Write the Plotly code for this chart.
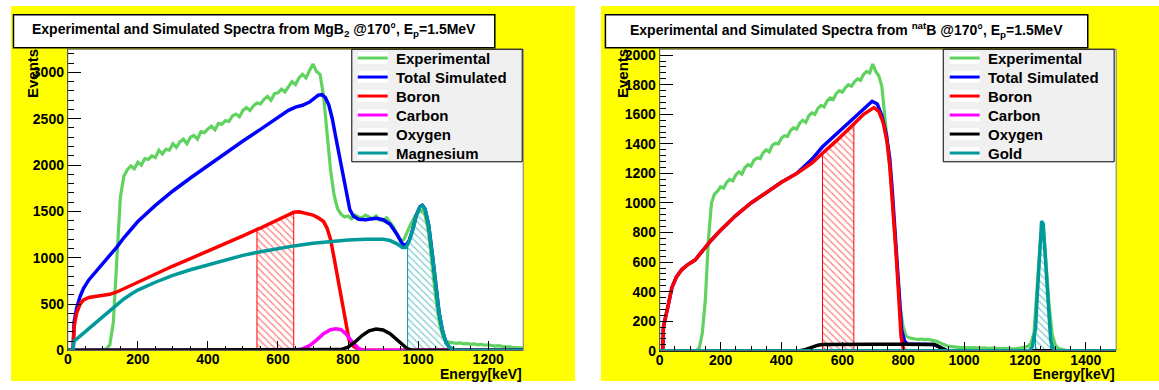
import plotly.graph_objects as go

W, H = 1159, 390

# ---------------- Left pad : MgB2 ----------------
EXP_L_E = list(range(0, 1301, 10))
EXP_L = [0, 0, 0, 0, 0, 0, 0, 0, 0, 0, 5, 15, 60, 300, 1000, 1650, 1880, 1950, 1990, 1960,
         2030, 2000, 2070, 2060, 2100, 2080, 2160, 2120, 2170, 2160, 2230, 2190, 2250, 2280, 2230,
         2300, 2320, 2280, 2360, 2350, 2390, 2420, 2380, 2450, 2440, 2480, 2470, 2530, 2550, 2520,
         2590, 2620, 2590, 2640, 2670, 2660, 2710, 2740, 2700, 2770, 2780, 2820, 2790, 2850, 2900,
         2870, 2940, 2980, 2940, 3020, 3090, 3010, 2980, 2750, 2350, 1950, 1680, 1530, 1470, 1440,
         1450, 1420, 1460, 1440, 1430, 1460, 1440, 1420, 1450, 1410, 1400, 1430, 1380, 1330, 1250,
         1180, 1200, 1290, 1370, 1440, 1490, 1510, 1460, 1270, 920, 580, 310, 160, 100, 85,
         80, 75, 80, 70, 75, 65, 70, 60, 65, 55, 60, 50, 45, 50, 40,
         35, 40, 30, 30, 25, 25]

TOT_L_E = [0, 15, 18, 25, 35, 45, 60, 80, 100, 120, 140, 160, 180, 200, 250, 300, 350, 400, 450,
           500, 550, 600, 630, 650, 670, 690, 705, 715, 725, 735, 745, 755, 765, 775, 785, 795,
           805, 815, 830, 850, 880, 900, 920, 940, 955, 965, 975, 985, 995, 1005, 1012, 1020,
           1030, 1040, 1050, 1060, 1070, 1080, 1090, 1100, 1110, 1300]
TOT_L = [0, 0, 300, 450, 580, 670, 760, 850, 930, 1020, 1115, 1215, 1305, 1390, 1565, 1720, 1860,
         1995, 2125, 2260, 2385, 2510, 2590, 2625, 2645, 2680, 2725, 2755, 2760, 2730, 2650, 2500,
         2300, 2100, 1880, 1680, 1520, 1450, 1415, 1410, 1425, 1410, 1360, 1250, 1150, 1130, 1190,
         1310, 1460, 1550, 1565, 1525, 1355, 1055, 705, 405, 205, 82, 30, 10, 0, 0]

B_L_E = [0, 15, 18, 25, 35, 45, 60, 80, 100, 120, 140, 160, 180, 200, 250, 300, 350, 400, 450,
         500, 540, 550, 600, 630, 645, 660, 680, 700, 715, 730, 740, 750, 760, 770, 779, 790,
         803, 815, 830, 850, 1300]
B_L = [0, 0, 250, 400, 500, 545, 570, 580, 590, 605, 630, 665, 705, 745, 830, 910, 990, 1070,
       1150, 1235, 1305, 1320, 1410, 1465, 1490, 1495, 1480, 1460, 1430, 1390, 1320, 1200, 1000,
       790, 600, 350, 110, 45, 12, 0, 0]

C_L_E = [0, 650, 670, 690, 710, 730, 750, 765, 780, 795, 810, 820, 830, 840, 850, 1300]
C_L = [0, 0, 15, 50, 110, 180, 222, 232, 222, 175, 100, 55, 20, 5, 0, 0]

O_L_E = [0, 760, 780, 800, 820, 840, 860, 880, 900, 920, 940, 955, 970, 985, 1300]
O_L = [0, 0, 8, 35, 90, 160, 210, 230, 220, 180, 110, 55, 15, 0, 0]

MG_L_E = [0, 15, 18, 25, 35, 45, 60, 80, 100, 120, 140, 160, 180, 200, 250, 300, 350, 400, 450,
          500, 550, 600, 650, 700, 750, 800, 850, 900, 920, 940, 955, 965, 970, 975, 985, 995,
          1005, 1012, 1020, 1030, 1040, 1050, 1060, 1070, 1080, 1090, 1100, 1110, 1300]
MG_L = [0, 0, 100, 120, 150, 185, 235, 300, 365, 430, 495, 555, 605, 650, 735, 810, 870, 925,
        975, 1025, 1065, 1100, 1130, 1155, 1175, 1190, 1198, 1198, 1185, 1150, 1110, 1110, 1140,
        1185, 1305, 1455, 1548, 1562, 1522, 1352, 1052, 702, 402, 202, 80, 30, 10, 0, 0]

HATCH_B_L = (540, 645)
HATCH_MG_L = (970, 1110)

# ---------------- Right pad : natB ----------------
EXP_R_E = list(range(0, 1501, 10))
EXP_R = [0, 0, 0, 0, 0, 0, 0, 0, 0, 0, 0, 0, 0, 20, 120, 350, 750, 1000, 1060, 1080,
         1110, 1100, 1140, 1160, 1150, 1190, 1210, 1195, 1240, 1260, 1250, 1290, 1305, 1300, 1340,
         1360, 1345, 1390, 1405, 1400, 1440, 1455, 1450, 1490, 1510, 1500, 1540, 1560, 1545, 1590,
         1610, 1600, 1640, 1660, 1650, 1690, 1710, 1700, 1740, 1760, 1750, 1780, 1800, 1790, 1820,
         1840, 1830, 1870, 1890, 1880, 1940, 1890, 1860, 1790, 1560, 1360, 1160, 860, 560, 300,
         160, 100, 88, 82, 80, 78, 80, 76, 78, 74, 72, 65, 55, 45, 35,
         30, 28, 25, 25, 22, 24, 20, 22, 20, 18, 20, 18, 20, 16, 18,
         16, 18, 15, 16, 14, 15, 14, 15, 16, 20, 25, 30, 50, 120, 420,
         720, 860, 600, 300, 110, 40, 15, 8, 5, 0, 0, 0, 0, 0, 0,
         0, 0, 0, 0, 0, 0, 0, 0, 0, 0, 0]

TOT_R_E = [0, 10, 12, 20, 30, 40, 55, 72, 90, 116, 137, 170, 200, 250, 300, 350, 400, 450, 470,
           500, 535, 580, 638, 670, 698, 715, 730, 745, 756, 764, 775, 785, 795, 805, 815, 850,
           900, 915, 930, 945, 1500]
TOT_R = [0, 0, 160, 250, 330, 428, 500, 548, 580, 614, 670, 750, 815, 915, 1000, 1070, 1140,
         1200, 1240, 1295, 1380, 1465, 1578, 1643, 1688, 1670, 1590, 1460, 1300, 1090, 760, 430,
         140, 65, 45, 45, 43, 30, 12, 0, 0]

B_R_E = [0, 10, 12, 20, 30, 40, 55, 72, 90, 116, 137, 170, 200, 250, 300, 350, 400, 450, 500,
         535, 580, 638, 670, 704, 720, 735, 747, 756, 764, 775, 785, 793, 800, 805, 1500]
B_R = [0, 0, 160, 250, 330, 428, 500, 548, 580, 614, 670, 750, 815, 915, 1000, 1070, 1140, 1200,
       1270, 1337, 1420, 1535, 1600, 1645, 1620, 1540, 1414, 1250, 1041, 712, 383, 98, 20, 0, 0]

C_R_E = [0, 1500]
C_R = [0, 0]

O_R_E = [0, 461, 480, 500, 520, 533, 600, 700, 800, 880, 903, 920, 935, 945, 1500]
O_R = [0, 0, 10, 25, 38, 43, 45, 45, 45, 45, 42, 25, 10, 0, 0]

AU_R_E = [0, 1215, 1225, 1235, 1240, 1245, 1250, 1255, 1260, 1265, 1270, 1275, 1280, 1285,
          1292, 1300, 1500]
AU_R = [0, 0, 30, 150, 350, 560, 760, 877, 860, 700, 520, 330, 170, 70, 20, 0, 0]

HATCH_B_R = (535, 638)
HATCH_AU_R = (1235, 1285)

NAMES_L = ["Experimental", "Total Simulated", "Boron", "Carbon", "Oxygen", "Magnesium"]
NAMES_R = ["Experimental", "Total Simulated", "Boron", "Carbon", "Oxygen", "Gold"]
COLORS = ["#5fd25f", "#0000ff", "#ff0000", "#ff00ff", "#000000", "#009999"]

TITLE_L = "Experimental and Simulated Spectra from MgB<sub>2</sub> @170°, E<sub>p</sub>=1.5MeV"
TITLE_R = "Experimental and Simulated Spectra from <sup>nat</sup>B @170°, E<sub>p</sub>=1.5MeV"

FONT = "Liberation Sans, Arial, Helvetica, sans-serif"


def px(x):
    return x / W


def py(y):
    return 1 - y / H


def hatch_poly(E, V, lo, hi):
    xs = [e for e in E if lo <= e <= hi]
    ys = [v for e, v in zip(E, V) if lo <= e <= hi]
    return [xs[0]] + xs + [xs[-1]], [0] + ys + [0]


fig = go.Figure()

PL = dict(x0=64, x1=521, y0=48.5, y1=357.5)
PR = dict(x0=658, x1=1116, y0=48.5, y1=358)


def add_pad(E_list, V_list, hatches, xa, ya):
    for (E, V, lo, hi, col) in hatches:
        hx, hy = hatch_poly(E, V, lo, hi)
        fig.add_trace(go.Scatter(x=hx, y=hy, xaxis=xa, yaxis=ya, mode="lines", fill="toself",
                                 fillcolor="rgba(0,0,0,0)",
                                 fillpattern=dict(shape="\\", fgcolor=col, bgcolor="rgba(0,0,0,0)",
                                                  size=5, solidity=0.25),
                                 line=dict(color=col, width=1), showlegend=False,
                                 hoverinfo="skip"))
    for i, (E, V) in enumerate(zip(E_list, V_list)):
        fig.add_trace(go.Scatter(x=E, y=V, xaxis=xa, yaxis=ya, mode="lines",
                                 line=dict(color=COLORS[i], width=3.5 if i else 3.2),
                                 showlegend=False))


add_pad([EXP_L_E, TOT_L_E, B_L_E, C_L_E, O_L_E, MG_L_E], [EXP_L, TOT_L, B_L, C_L, O_L, MG_L],
        [(B_L_E, B_L, HATCH_B_L[0], HATCH_B_L[1], "#ff0000"),
         (MG_L_E, MG_L, HATCH_MG_L[0], HATCH_MG_L[1], "#009999")], "x", "y")
add_pad([EXP_R_E, TOT_R_E, B_R_E, C_R_E, O_R_E, AU_R_E], [EXP_R, TOT_R, B_R, C_R, O_R, AU_R],
        [(B_R_E, B_R, HATCH_B_R[0], HATCH_B_R[1], "#ff0000"),
         (AU_R_E, AU_R, HATCH_AU_R[0], HATCH_AU_R[1], "#009999")], "x2", "y2")

tickfont = dict(family=FONT, size=14, color="black", weight="bold")


def xaxis(p, rng):
    return dict(domain=[px(p["x0"]), px(p["x1"])], range=rng, dtick=200, tick0=0,
                ticks="inside", ticklen=9, tickwidth=1, tickcolor="black",
                minor=dict(dtick=50, ticklen=4.5, ticks="inside", tickcolor="black", tickwidth=1),
                showgrid=False, zeroline=False, showline=True, linecolor="black", linewidth=1,
                tickfont=tickfont, ticklabelstandoff=-4, fixedrange=True)


def yaxis(p, rng, dt, mdt):
    return dict(domain=[py(p["y1"]), py(p["y0"])], range=rng, dtick=dt, tick0=0,
                ticks="inside", ticklen=13, tickwidth=1, tickcolor="black",
                minor=dict(dtick=mdt, ticklen=6.5, ticks="inside", tickcolor="black", tickwidth=1),
                showgrid=False, zeroline=False, showline=True, linecolor="black", linewidth=1,
                tickfont=tickfont, fixedrange=True)


shapes = []
shapes.append(dict(type="rect", xref="paper", yref="paper", x0=px(7), x1=px(573), y0=py(389),
                   y1=py(4), fillcolor="#ffff00", line=dict(width=0), layer="below"))
shapes.append(dict(type="rect", xref="paper", yref="paper", x0=px(599), x1=px(1159), y0=py(389),
                   y1=py(4), fillcolor="#ffff00", line=dict(width=0), layer="below"))
for p in (PL, PR):
    shapes.append(dict(type="rect", xref="paper", yref="paper", x0=px(p["x0"]), x1=px(p["x1"]),
                       y0=py(p["y1"]), y1=py(p["y0"]), fillcolor="white", line=dict(width=0),
                       layer="below"))
    shapes.append(dict(type="rect", xref="paper", yref="paper", x0=px(p["x0"]), x1=px(p["x1"]),
                       y0=py(p["y1"]), y1=py(p["y0"]), line=dict(color="#777777", width=1),
                       layer="above"))

annotations = []
for (x0, x1, txt) in ((9.5, 492.5, TITLE_L), (603.5, 1087.5, TITLE_R)):
    shapes.append(dict(type="rect", xref="paper", yref="paper", x0=px(x0), x1=px(x1),
                       y0=py(47), y1=py(13), fillcolor="white", line=dict(color="black", width=1.5),
                       layer="above"))
    annotations.append(dict(text=txt, xref="paper", yref="paper", x=px((x0 + x1) / 2), y=py(29),
                            xanchor="center", yanchor="middle", showarrow=False,
                            font=dict(family=FONT, size=14, color="black", weight="bold")))

ROWS = [57.5, 77, 96.5, 116, 135.5, 155]
for (bx0, bx1, lx0, lx1, tx, names) in ((349, 520, 355, 385, 391, NAMES_L),
                                         (942.5, 1114, 949, 979, 985, NAMES_R)):
    shapes.append(dict(type="rect", xref="paper", yref="paper", x0=px(bx0), x1=px(bx1),
                       y0=py(164), y1=py(48.5), fillcolor="#f0f0f0",
                       line=dict(color="black", width=1), layer="above"))
    for i, (name, yy) in enumerate(zip(names, ROWS)):
        shapes.append(dict(type="rect", xref="paper", yref="paper", x0=px(lx0), x1=px(lx1),
                           y0=py(yy + 6), y1=py(yy - 6), fillcolor="white", line=dict(width=0),
                           layer="above"))
        shapes.append(dict(type="line", xref="paper", yref="paper", x0=px(lx0), x1=px(lx1),
                           y0=py(yy), y1=py(yy), line=dict(color=COLORS[i], width=3),
                           layer="above"))
        annotations.append(dict(text=name, xref="paper", yref="paper", x=px(tx), y=py(yy),
                                xanchor="left", yanchor="middle", showarrow=False,
                                font=dict(family=FONT, size=15, color="black", weight="bold")))

for (xc, xr) in ((28, 521), (620, 1116)):
    annotations.append(dict(text="Events", xref="paper", yref="paper", x=px(xc), y=py(73),
                            xanchor="center", yanchor="middle", textangle=-90, showarrow=False,
                            font=dict(family=FONT, size=15, color="black", weight="bold")))
    annotations.append(dict(text="Energy[keV]", xref="paper", yref="paper", x=px(xr), y=py(391.5),
                            xanchor="right", yanchor="bottom", showarrow=False, borderpad=0,
                            font=dict(family=FONT, size=14, color="black", weight="bold")))

fig.update_layout(
    width=W, height=H, margin=dict(l=0, r=0, t=0, b=0),
    paper_bgcolor="white", plot_bgcolor="rgba(0,0,0,0)",
    showlegend=False,
    xaxis=dict(xaxis(PL, [0, 1300]), anchor="y"),
    yaxis=dict(yaxis(PL, [0, 3250], 500, 100), anchor="x"),
    xaxis2=dict(xaxis(PR, [0, 1500]), anchor="y2"),
    yaxis2=dict(yaxis(PR, [0, 2040], 200, 40), anchor="x2"),
    shapes=shapes, annotations=annotations,
)

fig.write_html("out.html")
